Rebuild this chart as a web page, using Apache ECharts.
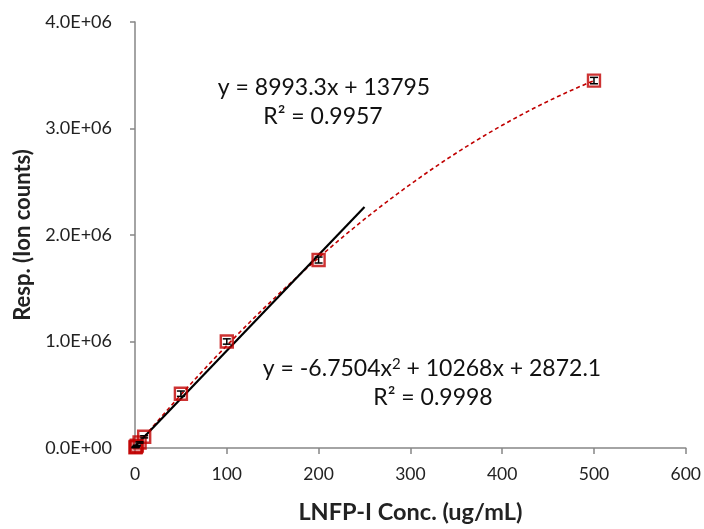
<!DOCTYPE html>
<html><head><meta charset="utf-8">
<script src="https://cdn.jsdelivr.net/npm/echarts@6/dist/echarts.min.js"></script>
<style>html,body{margin:0;padding:0;background:#fff}#c{width:704px;height:529px}</style>
</head><body><div id="c"></div>
<script>
// Data
const concentrations = [0.5, 1, 2, 5, 10, 50, 100, 200, 500];
const responses = [6000, 12000, 22000, 52000, 105000, 510000, 1000000, 1765000, 3450000];
const errors = [3000, 3000, 4000, 6000, 10000, 25000, 25000, 28000, 30000];
const xTicks = [0, 100, 200, 300, 400, 500, 600];
const yTicks = [0, 1e6, 2e6, 3e6, 4e6];
// Trendline coefficients as printed on the chart
const linCoef = {slope: 8993.3, intercept: 13795, xEnd: 250};
const quadCoef = {a: -6.7504, b: 10268, c: 2872.1, xEnd: 500};
const linLabel = ['y = 8993.3x + 13795', 'R² = 0.9957'];
const quadLabel = ['y = -6.7504x{sup|2} + 10268x + 2872.1', 'R² = 0.9998'];

const pts = concentrations.map((x, i) => [x, responses[i]]);
const linLine = [[0, linCoef.intercept], [linCoef.xEnd, linCoef.slope * linCoef.xEnd + linCoef.intercept]];
const quadLine = [];
for (let i = 0; i <= 100; i++) {
  const x = quadCoef.xEnd * i / 100;
  quadLine.push([x, quadCoef.a * x * x + quadCoef.b * x + quadCoef.c]);
}
const errData = concentrations.map((x, i) => [x, responses[i] - errors[i], responses[i] + errors[i]]);

const chart = echarts.init(document.getElementById('c'));
const font = 'Lato, "Open Sans", sans-serif';
const eqStyle = {fontFamily: font, fontSize: 23, fill: '#111', textAlign: 'center', textVerticalAlign: 'middle'};
chart.setOption({
  animation: false,
  grid: {left: 135, right: 18, top: 22, bottom: 77},
  xAxis: {
    type: 'value', min: xTicks[0], max: xTicks[xTicks.length - 1], interval: xTicks[1] - xTicks[0],
    name: 'LNFP-I Conc. (ug/mL)', nameLocation: 'middle', nameGap: 52,
    nameTextStyle: {fontFamily: font, fontWeight: 'bold', fontSize: 23.5, color: '#222'},
    axisLine: {lineStyle: {color: '#868686', width: 1.5}},
    axisTick: {show: true, inside: false, length: 6, lineStyle: {color: '#868686', width: 1.5}},
    axisLabel: {fontFamily: font, fontSize: 17.5, color: '#222', margin: 17},
    splitLine: {show: false}
  },
  yAxis: {
    type: 'value', min: yTicks[0], max: yTicks[yTicks.length - 1], interval: yTicks[1] - yTicks[0],
    name: 'Resp. (Ion counts)', nameLocation: 'middle', nameGap: 100, nameRotate: 90,
    nameTextStyle: {fontFamily: font, fontWeight: 'bold', fontSize: 22, color: '#222'},
    axisLine: {show: true, lineStyle: {color: '#868686', width: 1.5}},
    axisTick: {show: true, inside: false, length: 5, lineStyle: {color: '#868686', width: 1.5}},
    axisLabel: {fontFamily: font, fontSize: 18, color: '#222', margin: 23,
      formatter: v => v === 0 ? '0.0E+00' : (v / 1e6).toFixed(1) + 'E+06'},
    splitLine: {show: false}
  },
  series: [
    {type: 'line', data: quadLine, symbol: 'none', smooth: false,
     lineStyle: {color: '#C00000', width: 1.6, type: [4, 3]}, z: 2},
    {type: 'line', data: linLine, symbol: 'none',
     lineStyle: {color: '#000', width: 2.2}, z: 3},
    {type: 'scatter', data: pts, symbol: 'rect', symbolSize: 12,
     itemStyle: {color: 'rgba(255,255,255,0)', borderColor: '#C00000', borderWidth: 2.4}, z: 4},
    {type: 'custom', data: errData, z: 5,
     renderItem: function (params, api) {
       const x = api.value(0);
       const lo = api.coord([x, api.value(1)]);
       const hi = api.coord([x, api.value(2)]);
       const w = 4;
       const st = {stroke: '#000', lineWidth: 1.5};
       return {type: 'group', children: [
         {type: 'line', shape: {x1: lo[0], y1: lo[1], x2: hi[0], y2: hi[1]}, style: st},
         {type: 'line', shape: {x1: lo[0] - w, y1: lo[1], x2: lo[0] + w, y2: lo[1]}, style: st},
         {type: 'line', shape: {x1: hi[0] - w, y1: hi[1], x2: hi[0] + w, y2: hi[1]}, style: st}
       ]};
     }}
  ],
  graphic: [
    {type: 'text', x: 324, y: 88, style: Object.assign({text: linLabel[0]}, eqStyle)},
    {type: 'text', x: 323, y: 117, style: Object.assign({text: linLabel[1]}, eqStyle)},
    {type: 'text', x: 432, y: 369, style: Object.assign({text: quadLabel[0],
      rich: {sup: {fontFamily: font, fontSize: 15, verticalAlign: 'top', padding: [0, 0, 10, 0], fill: '#111'}}}, eqStyle)},
    {type: 'text', x: 433, y: 398, style: Object.assign({text: quadLabel[1]}, eqStyle)}
  ]
});
</script></body></html>
